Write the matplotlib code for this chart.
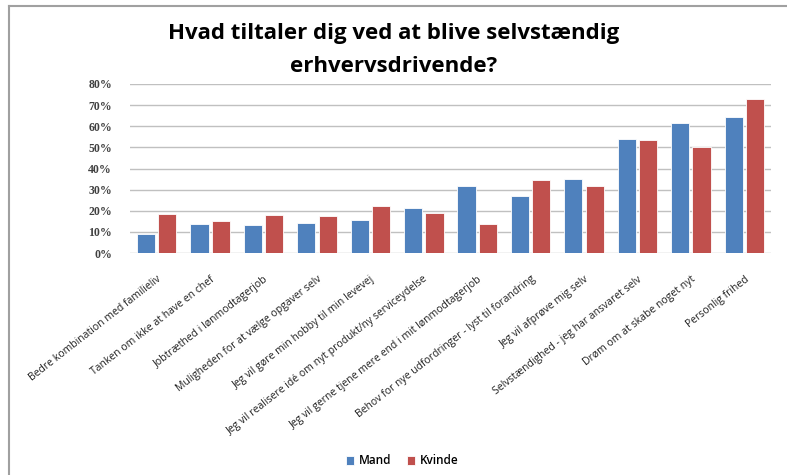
import matplotlib
matplotlib.use("Agg")
import matplotlib.pyplot as plt
import numpy as np
from matplotlib.lines import Line2D
from matplotlib.ticker import PercentFormatter

categories = [
    "Bedre kombination med familieliv",
    "Tanken om ikke at have en chef",
    "Jobtræthed i lønmodtagerjob",
    "Muligheden for at vælge opgaver selv",
    "Jeg vil gøre min hobby til min levevej",
    "Jeg vil realisere idé om nyt produkt/ny serviceydelse",
    "Jeg vil gerne tjene mere end i mit lønmodtagerjob",
    "Behov for nye udfordringer - lyst til forandring",
    "Jeg vil afprøve mig selv",
    "Selvstændighed - jeg har ansvaret selv",
    "Drøm om at skabe noget nyt",
    "Personlig frihed",
]
mand = [9.0, 13.6, 13.1, 14.2, 15.5, 21.3, 31.8, 27.0, 34.9, 54.2, 61.5, 64.5]
kvinde = [18.5, 15.2, 17.9, 17.4, 22.3, 19.1, 13.6, 34.6, 31.5, 53.7, 50.2, 73.0]
series_names = ["Mand", "Kvinde"]
colors = ["#4F81BD", "#C0504D"]

plt.rcParams["font.family"] = ["Open Sans", "DejaVu Sans"]

fig = plt.figure(figsize=(7.87, 4.75), dpi=100)
ax = fig.add_axes([130 / 787, 1 - 253 / 475, 641 / 787, 169 / 475])

x = np.arange(len(categories))
w = 0.34
ax.bar(x - 0.2, mand, w, color=colors[0], edgecolor="white", linewidth=0.6,
       label=series_names[0], zorder=3)
ax.bar(x + 0.2, kvinde, w, color=colors[1], edgecolor="white", linewidth=0.6,
       label=series_names[1], zorder=3)

ax.set_xlim(-0.5, len(categories) - 0.5)
ax.set_ylim(0, 80)
ax.set_yticks(np.arange(0, 81, 10))
ax.yaxis.set_major_formatter(PercentFormatter(decimals=0))
ax.grid(axis="y", color="#c0c0c0", linewidth=1, zorder=0)
for s in ax.spines.values():
    s.set_visible(False)
ax.tick_params(axis="both", length=0)
ax.tick_params(axis="y", pad=13, labelcolor="#404040")
for t in ax.get_yticklabels():
    t.set_fontfamily("Liberation Serif")
    t.set_fontweight("bold")
    t.set_fontsize(8.5)
ax.set_xticks(x)
ax.set_xticklabels(categories, rotation=38, ha="right", rotation_mode="anchor",
                   fontsize=7.5, color="#202020")
ax.tick_params(axis="x", pad=15)

fig.text(0.5, 1 - 33 / 475, "Hvad tiltaler dig ved at blive selvstændig",
         ha="center", va="center", fontsize=16, fontweight="bold")
fig.text(0.5, 1 - 66 / 475, "erhvervsdrivende?",
         ha="center", va="center", fontsize=16, fontweight="bold")

fig.legend(loc="center", bbox_to_anchor=(402 / 787, 1 - 461 / 475), ncol=2,
           frameon=False, prop={"size": 8.5, "weight": "semibold"},
           handlelength=0.7, handleheight=0.7,
           columnspacing=1.3, handletextpad=0.4)

# frame of the original chart area (top and left edges visible)
fig.add_artist(Line2D([9 / 787, 1], [1 - 6 / 475, 1 - 6 / 475],
                      transform=fig.transFigure, color="#a0a0a0", linewidth=1.5))
fig.add_artist(Line2D([9 / 787, 9 / 787], [0, 1 - 6 / 475],
                      transform=fig.transFigure, color="#a0a0a0", linewidth=1.5))

fig.savefig("out.png", dpi=100)
